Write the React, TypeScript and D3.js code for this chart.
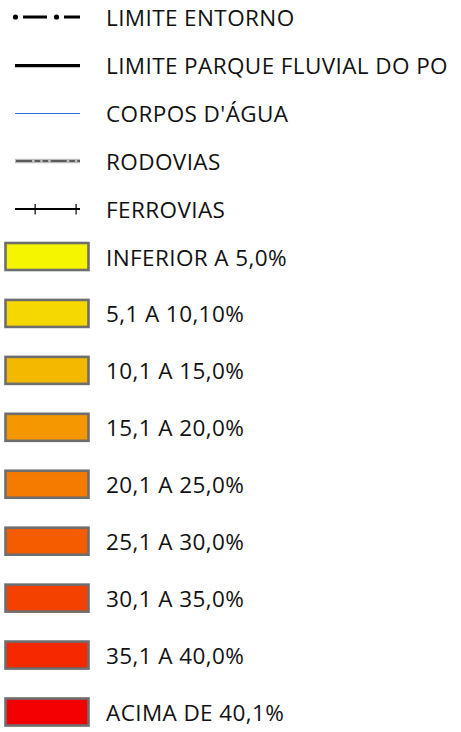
import { useEffect, useRef } from 'react';
import * as d3 from 'd3';

const WIDTH = 461;
const HEIGHT = 732;

// line-type entries (top part of the legend)
const lineLabels = [
  'LIMITE ENTORNO',
  'LIMITE PARQUE FLUVIAL DO PO',
  "CORPOS D'ÁGUA",
  'RODOVIAS',
  'FERROVIAS',
];
const lineKinds = ['dashdot', 'solid', 'water', 'road', 'rail'];

// class entries (fill swatches)
const classLabels = [
  'INFERIOR A 5,0%',
  '5,1 A 10,10%',
  '10,1 A 15,0%',
  '15,1 A 20,0%',
  '20,1 A 25,0%',
  '25,1 A 30,0%',
  '30,1 A 35,0%',
  '35,1 A 40,0%',
  'ACIMA DE 40,1%',
];
const classColors = [
  '#f5f500',
  '#f5d800',
  '#f4b800',
  '#f49700',
  '#f57a00',
  '#f55c00',
  '#f54100',
  '#f52800',
  '#f50000',
];

const FONT = "'Open Sans', sans-serif";
const FONT_SIZE = 22.5;

export default function App() {
  const svgRef = useRef<SVGSVGElement>(null);

  useEffect(() => {
    if (!svgRef.current) return;
    const svg = d3.select(svgRef.current);
    svg.selectAll('*').remove();

    const yLine = d3.scalePoint<string>().domain(lineLabels).range([17, 209]);
    const yClass = d3.scalePoint<string>().domain(classLabels).range([256.5, 712]);
    const sx = d3.scaleLinear().domain([0, 1]).range([15, 80]); // symbol span
    const textX = 106;

    const addText = (g: d3.Selection<SVGGElement, unknown, null, undefined>, label: string, y: number) =>
      g.append('text')
        .attr('x', textX).attr('y', y + 0.5)
        .attr('dominant-baseline', 'central')
        .attr('font-family', FONT).attr('font-size', FONT_SIZE)
        .attr('letter-spacing', 0.4)
        .attr('fill', '#111')
        .text(label);

    const lines = svg.append('g').attr('class', 'line-items');
    lineLabels.forEach((label, i) => {
      const y = yLine(label) ?? 0;
      const kind = lineKinds[i];
      const g = lines.append('g');
      if (kind === 'dashdot') {
        g.append('line')
          .attr('x1', sx(0) + 8).attr('x2', sx(1))
          .attr('y1', y).attr('y2', y)
          .attr('stroke', '#000').attr('stroke-width', 3)
          .attr('stroke-dasharray', '24 17');
        [sx(0) + 0.5, sx(0) + 41.5].forEach((cx) => {
          g.append('circle').attr('cx', cx).attr('cy', y).attr('r', 2.6).attr('fill', '#000');
        });
      } else if (kind === 'solid') {
        g.append('line')
          .attr('x1', sx(0)).attr('x2', sx(1))
          .attr('y1', y + 0.7).attr('y2', y + 0.7)
          .attr('stroke', '#000').attr('stroke-width', 3.2);
      } else if (kind === 'water') {
        g.append('line')
          .attr('x1', sx(0)).attr('x2', sx(1))
          .attr('y1', y + 0.5).attr('y2', y + 0.5)
          .attr('stroke', '#2f6fd6').attr('stroke-width', 1);
      } else if (kind === 'road') {
        g.append('line')
          .attr('x1', sx(0)).attr('x2', sx(1))
          .attr('y1', y).attr('y2', y)
          .attr('stroke', '#bdbdbd').attr('stroke-width', 4.5);
        g.append('line')
          .attr('x1', sx(0) + 1).attr('x2', sx(1))
          .attr('y1', y).attr('y2', y)
          .attr('stroke', '#5a5a5a').attr('stroke-width', 2)
          .attr('stroke-dasharray', '16 2.6 5.6 2.4 5.5 2.6');
      } else if (kind === 'rail') {
        g.append('line')
          .attr('x1', sx(0)).attr('x2', sx(1))
          .attr('y1', y).attr('y2', y)
          .attr('stroke', '#000').attr('stroke-width', 2);
        [sx(0.31), sx(0.94)].forEach((tx) => {
          g.append('line')
            .attr('x1', tx).attr('x2', tx)
            .attr('y1', y - 5).attr('y2', y + 5.5)
            .attr('stroke', '#000').attr('stroke-width', 1.2);
        });
      }
      addText(g, label, y);
    });

    const classes = svg.append('g').attr('class', 'class-items');
    classLabels.forEach((label, i) => {
      const y = yClass(label) ?? 0;
      classes.append('rect')
        .attr('x', 5.5).attr('y', y - 13.5)
        .attr('width', 83).attr('height', 27)
        .attr('fill', classColors[i])
        .attr('stroke', '#6e6e6e').attr('stroke-width', 2.6);
      addText(classes, label, y);
    });
  }, []);

  return (
    <svg
      ref={svgRef}
      width={WIDTH}
      height={HEIGHT}
      style={{ display: 'block', position: 'absolute', left: 0, top: 0, background: '#fff' }}
    />
  );
}
